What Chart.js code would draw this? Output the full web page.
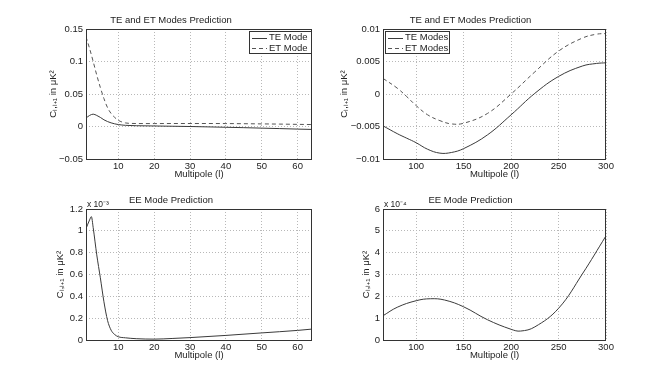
<!DOCTYPE html>
<html lang="en">
<head>
<meta charset="UTF-8">
<title>TE / ET / EE Mode Predictions</title>
<script src="https://cdn.jsdelivr.net/npm/chart.js"></script>
<style>
    body {
        margin: 0;
        background: #fff;
        width: 670px;
        height: 383px;
        overflow: hidden;
        position: relative;
    }
    canvas {
        position: absolute;
    }
</style>
</head>
<body>
<canvas id="teLow" width="338" height="190" style="left:30px;top:0px"></canvas>
<canvas id="teHigh" width="319" height="190" style="left:335px;top:0px"></canvas>
<canvas id="eeLow" width="338" height="193" style="left:30px;top:190px"></canvas>
<canvas id="eeHigh" width="319" height="193" style="left:335px;top:190px"></canvas>

<script>
// ---- data ----
const lowL = [1, 2, 3, 4, 5, 6, 7, 8, 9, 10, 11, 12, 15, 20, 25, 30, 35, 40, 45, 50, 55, 60, 64];
const teLow = [0.013, 0.017, 0.019, 0.017, 0.014, 0.0103, 0.0076, 0.0056, 0.0041, 0.003, 0.0023, 0.0018, 0.0012, 0.0008, 0.0004, 0.0,
    -0.0006, -0.0012, -0.0018, -0.0025, -0.0032, -0.004, -0.0045];
const etLow = [0.138, 0.12, 0.1, 0.079, 0.06, 0.043, 0.029, 0.02, 0.014, 0.0095, 0.007, 0.0055, 0.0046, 0.0045, 0.0046, 0.0046,
    0.0046, 0.0045, 0.0043, 0.004, 0.0037, 0.0033, 0.003];

const highL = [65, 80, 90, 100, 112, 125, 137, 150, 175, 200, 225, 250, 275, 290, 300];
const teHigh = [-0.0049, -0.0061, -0.0068, -0.0075, -0.0085, -0.0091, -0.009, -0.0084, -0.0063, -0.0032, 0.0001, 0.0027, 0.0043, 0.0047, 0.0048];
const etHigh = [0.0024, 0.0009, -0.0004, -0.0018, -0.0032, -0.0041, -0.0046, -0.0045, -0.003, 0.0, 0.0034, 0.0066, 0.0086, 0.0092, 0.0093];

const eeLowL = [1, 2, 2.5, 3, 4, 5, 6, 7, 8, 9, 10, 12, 15, 20, 25, 30, 40, 50, 60, 64];
const eeLow = [1.02e-3, 1.1e-3, 1.13e-3, 1.03e-3, 0.78e-3, 0.57e-3, 0.35e-3, 0.18e-3, 0.09e-3, 0.05e-3, 0.03e-3, 0.02e-3,
    0.012e-3, 0.008e-3, 0.014e-3, 0.022e-3, 0.042e-3, 0.065e-3, 0.088e-3, 0.1e-3];

const eeHighL = [65, 80, 100, 115, 130, 150, 175, 200, 210, 225, 250, 275, 300];
const eeHigh = [1.11e-4, 1.5e-4, 1.8e-4, 1.89e-4, 1.83e-4, 1.52e-4, 0.93e-4, 0.49e-4, 0.41e-4, 0.6e-4, 1.45e-4, 3.02e-4, 4.77e-4];

// ---- ticks ----
const lowXTicks = [10, 20, 30, 40, 50, 60];
const highXTicks = [100, 150, 200, 250, 300];
const teLowYTicks = [-0.05, 0, 0.05, 0.1, 0.15];
const teLowYLabels = ['\u22120.05', '0', '0.05', '0.1', '0.15'];
const teHighYTicks = [-0.01, -0.005, 0, 0.005, 0.01];
const teHighYLabels = ['\u22120.01', '\u22120.005', '0', '0.005', '0.01'];
const eeLowYTicks = [0, 0.2e-3, 0.4e-3, 0.6e-3, 0.8e-3, 1.0e-3, 1.2e-3];
const eeLowYLabels = ['0', '0.2', '0.4', '0.6', '0.8', '1', '1.2'];
const eeHighYTicks = [0, 1e-4, 2e-4, 3e-4, 4e-4, 5e-4, 6e-4];
const eeHighYLabels = ['0', '1', '2', '3', '4', '5', '6'];

const yTitle = 'C\u2097,\u2097\u208A\u2081 in \u03BCK\u00B2';
const xTitle = 'Multipole (l)';

Chart.defaults.font.family = "'Liberation Sans', Arial, sans-serif";
Chart.defaults.font.size = 9.5;
Chart.defaults.color = '#222';

const toPoints = (xs, ys) => xs.map((x, i) => ({ x: x, y: ys[i] }));

// box around the plot, legend with frame, exponent label
const matlabPlugin = {
    id: 'matlab',
    afterDraw(chart, args, opts) {
        const ctx = chart.ctx;
        const a = chart.chartArea;
        ctx.save();
        ctx.strokeStyle = '#333';
        ctx.lineWidth = 1;
        ctx.setLineDash([]);
        ctx.strokeRect(Math.round(a.left) + 0.5, Math.round(a.top) + 0.5,
            Math.round(a.right - a.left) - 1, Math.round(a.bottom - a.top));

        if (opts.exponent) {
            ctx.fillStyle = '#222';
            ctx.font = "8.5px 'Liberation Sans', Arial, sans-serif";
            ctx.textAlign = 'left';
            ctx.textBaseline = 'bottom';
            ctx.fillText(opts.exponent, a.left + 1, a.top);
        }

        if (opts.legend) {
            const lg = opts.legend;
            const bx = lg.align === 'right' ? Math.round(a.right) - lg.w - 1 : Math.round(a.left) + 2;
            const by = Math.round(a.top) + 2;
            ctx.fillStyle = '#fff';
            ctx.fillRect(bx + 0.5, by + 0.5, lg.w, lg.h);
            ctx.strokeRect(bx + 0.5, by + 0.5, lg.w, lg.h);
            ctx.font = "9.5px 'Liberation Sans', Arial, sans-serif";
            ctx.textAlign = 'left';
            ctx.textBaseline = 'middle';
            chart.data.datasets.forEach((ds, i) => {
                const cy = by + 6.5 + i * 10.6;
                ctx.strokeStyle = ds.borderColor;
                ctx.setLineDash(ds.borderDash || []);
                ctx.beginPath();
                ctx.moveTo(bx + 3, Math.round(cy) + 0.5);
                ctx.lineTo(bx + 18, Math.round(cy) + 0.5);
                ctx.stroke();
                ctx.fillStyle = '#222';
                ctx.fillText(ds.label, bx + 20, cy);
            });
        }
        ctx.restore();
    }
};

function makePanel(id, p) {
    const datasets = p.series.map(s => ({
        label: s.label,
        data: s.data,
        borderColor: s.color,
        borderWidth: 1,
        borderDash: s.dash,
        pointRadius: 0,
        fill: false,
        cubicInterpolationMode: p.smooth === 'monotone' ? 'monotone' : 'default',
        tension: p.smooth === 'monotone' ? 0 : 0.4
    }));
    return new Chart(document.getElementById(id), {
        type: 'line',
        data: { datasets: datasets },
        plugins: [matlabPlugin],
        options: {
            responsive: false,
            animation: false,
            devicePixelRatio: 1,
            layout: { padding: { left: 0, right: p.side, top: 0, bottom: 0 } },
            plugins: {
                legend: { display: false },
                tooltip: { enabled: false },
                title: {
                    display: true,
                    text: p.title,
                    color: '#222',
                    font: { size: 9.5, weight: 'normal' },
                    padding: { top: p.titleTop, bottom: p.titleBottom }
                },
                matlab: { legend: p.legend, exponent: p.exponent }
            },
            scales: {
                x: {
                    type: 'linear',
                    min: p.xMin,
                    max: p.xMax,
                    afterBuildTicks: s => { s.ticks = p.xTicks.map(v => ({ value: v })); },
                    afterFit: s => { s.height = p.xHeight; },
                    ticks: { autoSkip: false, maxRotation: 0, padding: 2, color: '#222',
                        callback: (v, i) => String(p.xTicks[i]) },
                    grid: { color: '#b8b8b8', lineWidth: 1, drawTicks: false },
                    border: { display: false, dash: [1, 2] },
                    title: { display: true, text: xTitle, color: '#222', font: { size: 9.5 },
                        padding: { top: 0, bottom: p.xTitlePad } }
                },
                y: {
                    type: 'linear',
                    min: p.yTicks[0],
                    max: p.yTicks[p.yTicks.length - 1],
                    afterBuildTicks: s => { s.ticks = p.yTicks.map(v => ({ value: v })); },
                    afterFit: s => { s.width = p.side; },
                    ticks: { autoSkip: false, padding: 3, color: '#222',
                        callback: (v, i) => p.yLabels[i] },
                    grid: { color: '#b8b8b8', lineWidth: 1, drawTicks: false },
                    border: { display: false, dash: [1, 2] },
                    title: { display: true, text: yTitle, color: '#222', font: { size: 9.5 },
                        padding: { top: p.yTitlePad, bottom: 0 } }
                }
            }
        }
    });
}

makePanel('teLow', {
    title: 'TE and ET Modes Prediction',
    series: [
        { label: 'TE Mode', data: toPoints(lowL, teLow), color: '#3a3a3a', dash: [] },
        { label: 'ET Mode', data: toPoints(lowL, etLow), color: '#555', dash: [4, 3] }
    ],
    smooth: 'monotone',
    xMin: 1, xMax: 64, xTicks: lowXTicks,
    yTicks: teLowYTicks, yLabels: teLowYLabels,
    side: 56, xHeight: 31, titleTop: 14.3, titleBottom: 3.3, xTitlePad: 10, yTitlePad: 17.3,
    legend: { align: 'right', w: 62, h: 22 }
});

makePanel('teHigh', {
    title: 'TE and ET Modes Prediction',
    series: [
        { label: 'TE Modes', data: toPoints(highL, teHigh), color: '#3a3a3a', dash: [] },
        { label: 'ET Modes', data: toPoints(highL, etHigh), color: '#555', dash: [4, 3] }
    ],
    smooth: 'tension',
    xMin: 65, xMax: 300, xTicks: highXTicks,
    yTicks: teHighYTicks, yLabels: teHighYLabels,
    side: 48, xHeight: 31, titleTop: 14.3, titleBottom: 3.3, xTitlePad: 10, yTitlePad: 3.6,
    legend: { align: 'left', w: 64, h: 22 }
});

makePanel('eeLow', {
    title: 'EE Mode Prediction',
    series: [
        { label: 'EE Mode', data: toPoints(eeLowL, eeLow), color: '#3a3a3a', dash: [] }
    ],
    smooth: 'monotone',
    xMin: 1, xMax: 64, xTicks: lowXTicks,
    yTicks: eeLowYTicks, yLabels: eeLowYLabels,
    side: 56, xHeight: 43, titleTop: 5, titleBottom: 2.6, xTitlePad: 21.6, yTitlePad: 24.3,
    exponent: 'x 10\u207B\u00B3'
});

makePanel('eeHigh', {
    title: 'EE Mode Prediction',
    series: [
        { label: 'EE Mode', data: toPoints(eeHighL, eeHigh), color: '#3a3a3a', dash: [] }
    ],
    smooth: 'tension',
    xMin: 65, xMax: 300, xTicks: highXTicks,
    yTicks: eeHighYTicks, yLabels: eeHighYLabels,
    side: 48, xHeight: 43, titleTop: 5, titleBottom: 2.6, xTitlePad: 21.6, yTitlePad: 26,
    exponent: 'x 10\u207B\u2074'
});
</script>
</body>
</html>
